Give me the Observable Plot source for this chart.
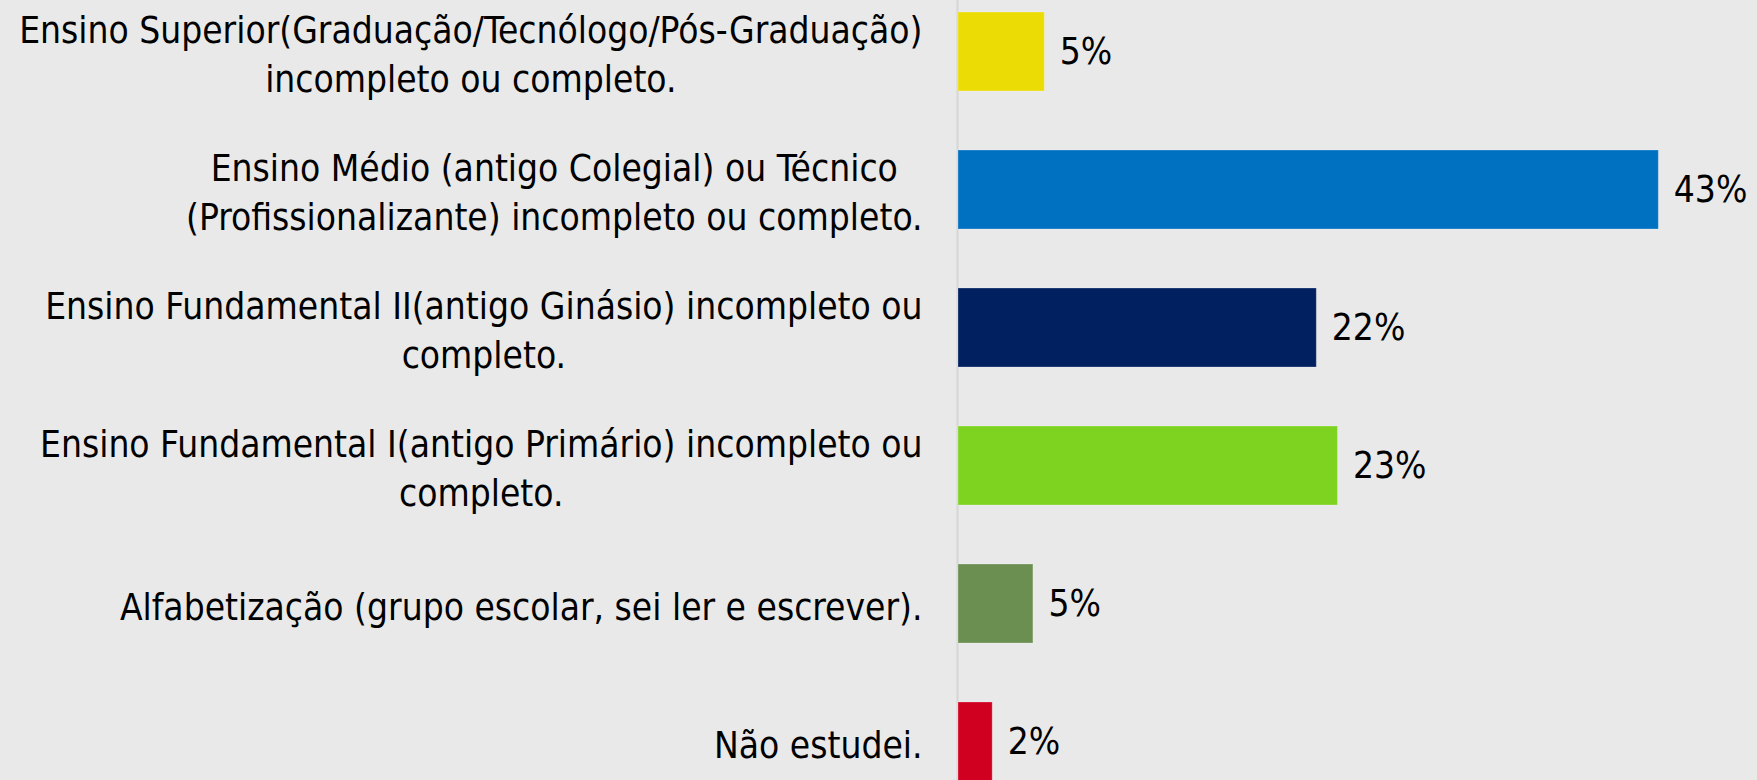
<!DOCTYPE html>
<html>
<head>
<meta charset="utf-8">
<script src="https://cdn.jsdelivr.net/npm/d3@7"></script>
<script src="https://cdn.jsdelivr.net/npm/@observablehq/plot@0.6"></script>
<style>
  html, body { margin: 0; padding: 0; background: #e9e9e9; }
  #chart svg { display: block; }
</style>
</head>
<body>
<div id="chart"></div>
<script>
// Categories (tick labels, with their line breaks)
const categories = [
  "Ensino Superior(Graduação/Tecnólogo/Pós-Graduação)\nincompleto ou completo.",
  "Ensino Médio (antigo Colegial) ou Técnico\n(Profissionalizante) incompleto ou completo.",
  "Ensino Fundamental II(antigo Ginásio) incompleto ou\ncompleto.",
  "Ensino Fundamental I(antigo Primário) incompleto ou\ncompleto.",
  "Alfabetização (grupo escolar, sei ler e escrever).",
  "Não estudei."
];
// Values (percent)
const values = [5.3, 43.0, 22.0, 23.3, 4.6, 2.1];
// Printed value labels
const valueLabels = ["5%", "43%", "22%", "23%", "5%", "2%"];
// Bar colours
const colors = ["#ebdc06", "#0070c0", "#002060", "#7ed321", "#6a8f50", "#d00020"];

const data = categories.map((c, i) => ({category: c, value: values[i], label: valueLabels[i]}));

const font = "'DejaVu Sans Condensed', 'DejaVu Sans', sans-serif";

const chart = Plot.plot({
  width: 1757,
  height: 780,
  marginLeft: 958,
  marginRight: 0,
  marginTop: 0,
  marginBottom: 0,
  style: {background: "#e9e9e9", fontFamily: font, fontSize: "36.8px", fontStretch: "condensed", color: "#000"},
  x: {domain: [0, 49.06], axis: null},
  y: {domain: categories, range: [-48.4, 841.4], padding: 0.429, axis: null},
  color: {domain: categories, range: colors},
  marks: [
    Plot.ruleX([0], {stroke: "#d6d6d6", strokeWidth: 2, dx: -1}),
    Plot.barX(data, {y: "category", x: "value", fill: "category", stroke: "white", strokeOpacity: 0.25, strokeWidth: 1}),
    Plot.text(data, {y: "category", x: "value", text: "label", dx: 15, textAnchor: "start", fill: "#000", fontSize: 36.8}),
    Plot.axisY({tickSize: 0, tickPadding: 36, lineHeight: 1.33, fill: "#000", fontSize: 36.8, label: null})
  ]
});

document.getElementById("chart").append(chart);

// Centre the lines of each multi-line tick label within its block (right edge kept)
chart.querySelectorAll('g[aria-label="y-axis tick label"] text').forEach(t => {
  const spans = t.querySelectorAll("tspan");
  if (spans.length < 2) return;
  const widths = [...spans].map(s => s.getComputedTextLength());
  const W = Math.max(...widths);
  t.setAttribute("text-anchor", "middle");
  spans.forEach(s => s.setAttribute("x", -W / 2));
});
</script>
</body>
</html>
